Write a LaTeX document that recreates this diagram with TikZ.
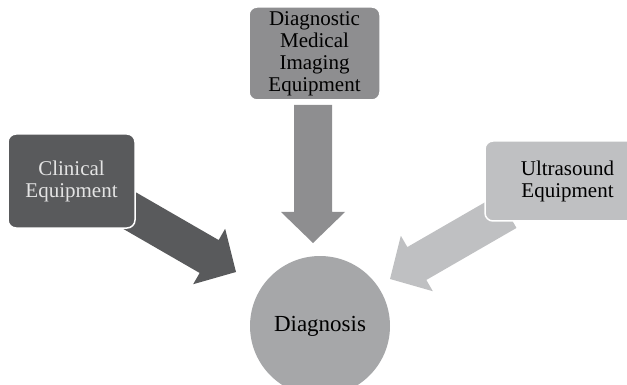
\documentclass[tikz,border=0pt]{standalone}
\usepackage{fontspec}
\setmainfont{Liberation Serif}
\usetikzlibrary{calc}
\definecolor{clingray}{HTML}{595A5C}
\definecolor{imggray}{HTML}{8E8E90}
\definecolor{usgray}{HTML}{BFC0C2}
\definecolor{dxgray}{HTML}{A6A7A9}
\definecolor{lighttext}{HTML}{E4E4E4}
\tikzset{
  sourcebox/.style={rounded corners=8pt, draw=white, line width=1.5pt,
    inner sep=0pt, align=center, font=\fontsize{21}{22}\selectfont, text=black},
  goalcircle/.style={circle, fill=dxgray, draw=none, minimum size=140pt,
    inner sep=0pt, font=\fontsize{23}{24}\selectfont},
}
% block arrow from #2 to tip #3, filled with colour #1
\newcommand\blockarrow[3]{%
  \fill[#1]
    ($(#2)!19pt!90:(#3)$) --
    ($($(#3)!31pt!(#2)$)!19pt!-90:(#2)$) --
    ($($(#3)!31pt!(#2)$)!32pt!-90:(#2)$) --
    (#3) --
    ($($(#3)!31pt!(#2)$)!32pt!90:(#2)$) --
    ($($(#3)!31pt!(#2)$)!19pt!90:(#2)$) --
    ($(#2)!19pt!-90:(#3)$) -- cycle;}
\begin{document}
\begin{tikzpicture}[x=1pt, y=-1pt]
  \useasboundingbox (0,0) rectangle (627,385);

  % arrow ends
  \coordinate (clinS) at (119,204.5);
  \coordinate (clinT) at (236,272);
  \coordinate (imgS) at (313,105);
  \coordinate (imgT) at (313,243);
  \coordinate (usS) at (507,211.5);
  \coordinate (usT) at (390,279);

  % block arrows, drawn beneath the boxes
  \blockarrow{clingray}{clinS}{clinT}
  \blockarrow{imggray}{imgS}{imgT}
  \blockarrow{usgray}{usS}{usT}

  % source boxes
  \node[sourcebox, fill=clingray, text=lighttext, minimum width=127pt, minimum height=94pt]
    (clin) at (71.5,181) {Clinical\\Equipment};
  \node[sourcebox, fill=imggray, minimum width=131pt, minimum height=93pt]
    (img) at (314.5,53.5) {Diagnostic\\Medical\\Imaging\\Equipment};
  \node[sourcebox, fill=usgray, minimum width=165pt, minimum height=80pt]
    (us) at (567.5,181) {Ultrasound\\Equipment};

  % target
  \node[goalcircle] (dx) at (320,326) {Diagnosis};
\end{tikzpicture}
\end{document}
